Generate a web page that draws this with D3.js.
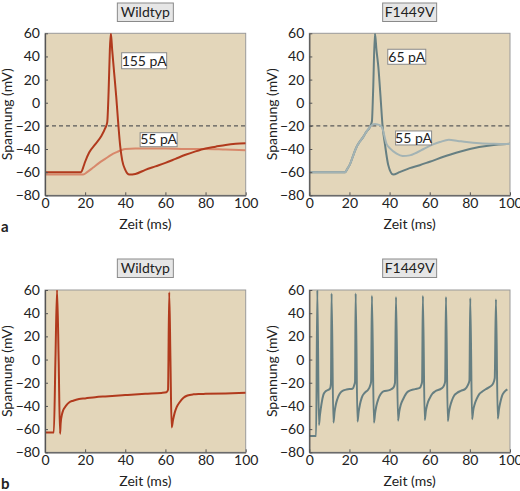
<!DOCTYPE html>
<html>
<head>
<meta charset="utf-8">
<script src="https://cdn.jsdelivr.net/npm/d3@7"></script>
<style>
  html, body { margin: 0; padding: 0; background: #ffffff; }
  svg { display: block; }
  text { font-family: Lato, "Open Sans", sans-serif; fill: #222; }
</style>
</head>
<body>
<svg id="chart" width="520" height="491"></svg>
<script>
// ---------- DATA ----------
const xTicks = [0, 20, 40, 60, 80, 100];
const yTicks = [60, 40, 20, 0, -20, -40, -60, -80];
const threshold = -20;

// Panel a, Wildtyp, 155 pA
const wtA155_t = [0, 18, 19, 20, 22, 25, 28, 30, 31, 31.7, 32.3, 32.8, 33.5, 34.5, 35.5, 36.5, 37.5, 38.5, 40, 42, 45, 50, 55, 60, 65, 70, 75, 80, 85, 90, 95, 100];
const wtA155_v = [-60, -60, -56, -51, -43, -36, -29, -22, -17, 10, 45, 60, 45, 25, 5, -18, -38, -50, -58, -62, -61.5, -58, -55, -52, -48.5, -45, -42, -39.5, -38, -36.5, -35.5, -35];
// Panel a, Wildtyp, 55 pA
const wtA55_t = [0, 19, 21, 24, 27, 30, 33, 36, 38, 40, 45, 50, 60, 70, 80, 90, 100];
const wtA55_v = [-62, -62, -60, -56, -52, -48.5, -45, -42.5, -41, -40, -39.5, -39.5, -39.5, -40, -40, -40.5, -41];
// Panel a, F1449V, 65 pA
const fA65_t = [0, 17.8, 19, 20.3, 22, 23.6, 25, 26.9, 28.5, 30.2, 31.2, 31.8, 32.7, 33.5, 34.4, 35.5, 36.5, 37.7, 39.3, 41.8, 45, 50, 55, 60, 70, 80, 90, 100];
const fA65_v = [-60, -60, -57, -53, -45, -38, -34, -29.5, -25, -21, -16, 10, 60, 45, 31, 5, -20, -36, -53.5, -62, -60, -56.5, -54, -51, -45, -40, -37, -35.5];
// Panel a, F1449V, 55 pA
const fA55_t = [0, 17.8, 19, 20.3, 22, 23.6, 25, 26.9, 28.5, 30.2, 31.5, 32.7, 34, 35.2, 36.1, 38.6, 40.2, 43.5, 46.5, 50, 53.4, 57, 61.7, 65, 69.5, 74, 78.4, 85, 92, 100];
const fA55_v = [-60, -60, -57, -53, -45, -38, -34, -29.5, -25, -21, -19, -18.4, -18.8, -19.5, -21, -36, -39.5, -44, -46, -45.5, -43.2, -40, -36, -34, -32, -33, -34, -35, -35.5, -35.7];

// Panel b, Wildtyp
const wtB_t = [0, 4.4, 5.2, 6.0, 6.8, 7.5, 7.8, 8.5, 9.1, 10, 10.8, 12, 14, 17, 20, 25, 30, 40, 50, 58, 60.5, 61.3, 61.9, 62.5, 63.1, 63.8, 64.6, 65.6, 67, 69, 71, 74, 77, 80, 90, 100];
const wtB_v = [-63, -63, 0, 60, 0, -64, -55, -47, -43.5, -41, -39, -37, -35.5, -34, -33.5, -32.5, -31.8, -30.6, -29.5, -28.8, -28.2, -26, 58, 0, -58.5, -52, -46, -41, -37, -33, -31, -30, -29.7, -29.6, -29.2, -28.6];

// Panel b, F1449V
const fB_t = [0, 3.4, 4.0, 4.8, 5.3, 6.1, 7.0, 7.8, 9.0, 10.3, 10.8, 11.1, 12.0,
  12.6, 13.2, 14.0, 15.0, 16.1, 18.6, 21.5, 22.4, 22.8, 23.1, 24.0,
  24.6, 25.2, 26.1, 27.7, 29.3, 30.2, 30.8, 31.2, 32.2,
  32.8, 33.4, 34.4, 35.5, 36.9, 40.2, 42.0, 42.7, 43.2, 44.2,
  44.8, 45.5, 46.8, 48.0, 49.3, 52.7, 55.0, 55.8, 56.2, 56.6, 57.5,
  58.1, 58.8, 60.1, 61.3, 62.6, 66.0, 67.2, 67.7, 68.1, 69.0,
  69.6, 70.2, 71.0, 72.2, 73.4, 75.5, 77.6, 79.0, 79.8, 80.2, 81.1,
  81.7, 82.4, 83.4, 84.6, 85.9, 88.0, 90.0, 91.5, 92.4, 93.0, 93.9,
  94.5, 95.3, 96.0, 96.7, 97.7, 98.7];
const fB_v = [-66, -66, 60, -56.5, -48, -38, -30.5, -28, -26.5, -25, -20.5, 57, -54.4,
  -45, -39, -34, -30, -27.5, -25.8, -25.2, -22, -19, 57, -53.5,
  -45, -39, -33, -28.5, -26, -23, -19, 55, -54.4,
  -46, -40, -34, -30, -27.5, -26.2, -24, -20, 54, -52.7,
  -45, -39.5, -34, -30, -27.5, -25.5, -24.5, -22, -19, 55, -52.1,
  -44, -38.5, -33, -29.5, -27.5, -24.8, -22, -18.5, 54, -53,
  -45, -40, -35.5, -31, -29, -27, -25.5, -22, -18, 53, -51.5,
  -43.5, -38.5, -34, -30, -28, -25.5, -23.5, -21, -16, 52, -51,
  -43, -36, -31.5, -29, -27, -25.8];

// ---------- STYLE ----------
const BG = "#e3d6ba";
const RED_DARK = "#b13a1d";
const RED_LIGHT = "#d8886b";
const GRAY_DARK = "#667f82";
const GRAY_LIGHT = "#a3b3b4";
const FS = "14px";

const panels = [
  { x0: 45, x1: 245.7, y0: 33.3, y1: 195.3, title: "Wildtyp", titleY: 3, titleW: 56, letter: "a",
    series: [ {t: wtA55_t, v: wtA55_v, c: RED_LIGHT}, {t: wtA155_t, v: wtA155_v, c: RED_DARK} ],
    dashed: true,
    labels: [ {text: "155 pA", x: 38.2, y: 43.2, w: 45, h: 16}, {text: "55 pA", x: 47.4, y: -25.9, w: 37, h: 14} ] },
  { x0: 309.3, x1: 510, y0: 33.3, y1: 195.3, title: "F1449V", titleY: 3, titleW: 54,
    series: [ {t: fA65_t, v: fA65_v, c: GRAY_DARK}, {t: fA55_t, v: fA55_v, c: GRAY_LIGHT} ],
    dashed: true,
    labels: [ {text: "65 pA", x: 39.1, y: 46.2, w: 38, h: 15}, {text: "55 pA", x: 43.0, y: -24.4, w: 36, h: 14} ] },
  { x0: 45, x1: 245.7, y0: 290, y1: 452.3, title: "Wildtyp", titleY: 259, titleW: 56, letter: "b",
    series: [ {t: wtB_t, v: wtB_v, c: RED_DARK} ], dashed: false, labels: [] },
  { x0: 309.3, x1: 510, y0: 290, y1: 452.3, title: "F1449V", titleY: 259, titleW: 54,
    series: [ {t: fB_t, v: fB_v, c: GRAY_DARK} ], dashed: false, labels: [] }
];

const svg = d3.select("#chart");

panels.forEach((p, i) => {
  const x = d3.scaleLinear().domain([0, 100]).range([p.x0, p.x1]);
  const y = d3.scaleLinear().domain([-80, 60]).range([p.y1, p.y0]);
  const g = svg.append("g");

  // title box
  const cx = (p.x0 + p.x1) / 2;
  g.append("rect").attr("x", cx - p.titleW / 2).attr("y", p.titleY).attr("width", p.titleW).attr("height", 18.5)
    .attr("fill", "#e6e6e6").attr("stroke", "#8a8a8a").attr("stroke-width", 1);
  g.append("text").attr("x", cx).attr("y", p.titleY + 14.3).attr("text-anchor", "middle")
    .style("font-size", FS).text(p.title);

  // plot background
  g.append("rect").attr("x", p.x0).attr("y", p.y0).attr("width", p.x1 - p.x0).attr("height", p.y1 - p.y0)
    .attr("fill", BG).attr("stroke", "#9a9a9a").attr("stroke-width", 1);

  const clipId = "clip" + i;
  svg.append("clipPath").attr("id", clipId).append("rect")
    .attr("x", p.x0).attr("y", p.y0).attr("width", p.x1 - p.x0).attr("height", p.y1 - p.y0);

  // dashed threshold
  if (p.dashed) {
    g.append("line").attr("x1", p.x0).attr("x2", p.x1 + 2).attr("y1", y(threshold)).attr("y2", y(threshold))
      .attr("stroke", "#5a5a5a").attr("stroke-width", 1.2).attr("stroke-dasharray", "4,3");
  }

  // traces
  const line = d3.line().x(d => x(d[0])).y(d => y(d[1])).curve(d3.curveMonotoneX);
  const lg = g.append("g").attr("clip-path", `url(#${clipId})`);
  p.series.forEach(s => {
    const pts = s.t.map((t, k) => [t, s.v[k]]);
    lg.append("path").datum(pts).attr("d", line).attr("fill", "none")
      .attr("stroke", s.c).attr("stroke-width", 2).attr("stroke-linejoin", "round");
  });

  // labels in plot
  p.labels.forEach(l => {
    const lx = x(l.x), ly = y(l.y);
    g.append("rect").attr("x", lx).attr("y", ly).attr("width", l.w).attr("height", l.h)
      .attr("fill", "#ffffff").attr("stroke", "#8a8a8a").attr("stroke-width", 1);
    g.append("text").attr("x", lx + l.w / 2).attr("y", ly + l.h / 2 + 4.8).attr("text-anchor", "middle")
      .style("font-size", FS).text(l.text);
  });

  // axes
  const xAxis = d3.axisBottom(x).tickValues(xTicks).tickSizeInner(-3).tickSizeOuter(0).tickPadding(3);
  const ax = g.append("g").attr("transform", `translate(0,${p.y1})`).call(xAxis);
  const yAxis = d3.axisLeft(y).tickValues(yTicks).tickSizeInner(-3).tickSizeOuter(0).tickPadding(5);
  const ay = g.append("g").attr("transform", `translate(${p.x0},0)`).call(yAxis);
  [ax, ay].forEach(a => {
    a.select(".domain").attr("stroke", "#555").attr("stroke-width", 1.3);
    a.selectAll(".tick line").attr("stroke", "#555");
    a.selectAll(".tick text").style("font-size", FS).style("font-family", "Lato, 'Open Sans', sans-serif").attr("fill", "#222");
  });

  // axis titles
  g.append("text").attr("x", cx).attr("y", p.y1 + 33.5).attr("text-anchor", "middle")
    .style("font-size", FS).text("Zeit (ms)");
  g.append("text").attr("transform", `translate(${p.x0 - 37.5},${(p.y0 + p.y1) / 2}) rotate(-90)`)
    .attr("text-anchor", "middle").attr("dy", "0.35em").style("font-size", FS).text("Spannung (mV)");

  if (p.letter) {
    g.append("text").attr("x", 1).attr("y", p.y1 + 37).style("font-size", "15px").style("font-weight", "bold")
      .text(p.letter);
  }
});
</script>
</body>
</html>
